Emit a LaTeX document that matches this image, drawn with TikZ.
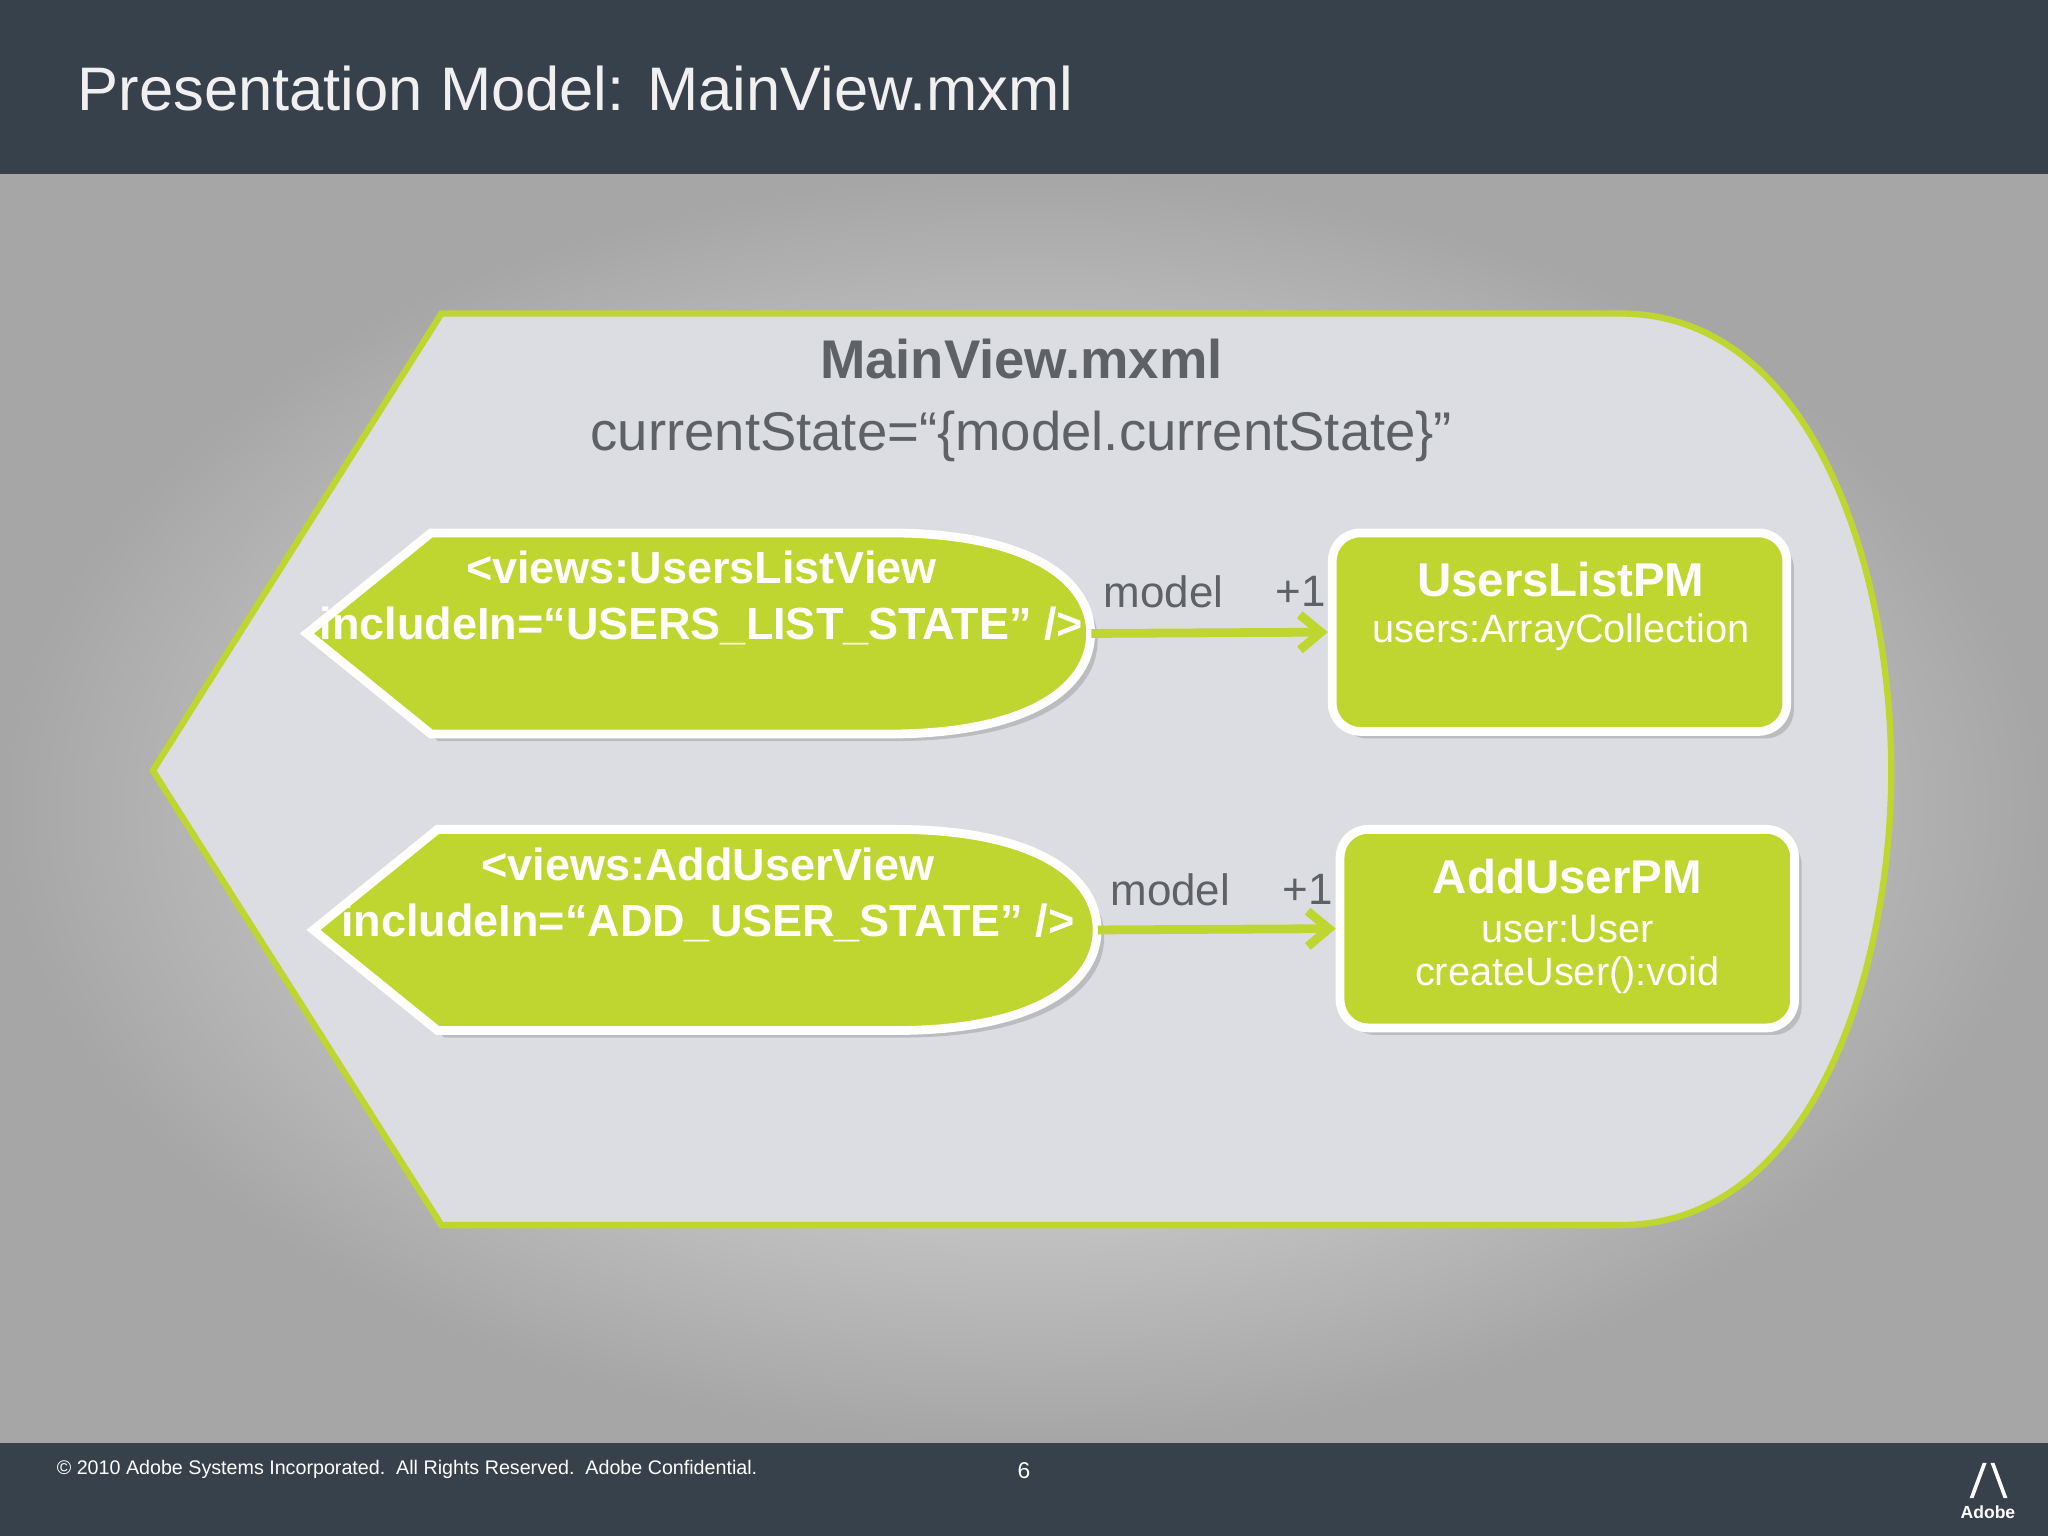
\documentclass[tikz,border=0pt]{standalone}
\usepackage{fontspec}
\setmainfont{Liberation Sans}
\usetikzlibrary{positioning, arrows.meta, shadows}
\definecolor{barcol}{HTML}{37414C}
\definecolor{limecol}{HTML}{BED62F}
\definecolor{panelcol}{HTML}{DCDDE2}
\definecolor{txtcol}{HTML}{5E6166}
\newcommand{\pxu}{0.013061cm}
\tikzset{
  pm box/.style={draw=white, line width=2.5pt, fill=limecol, rounded corners=8pt,
    minimum width=348*\pxu, minimum height=152*\pxu,
    drop shadow={shadow xshift=2pt, shadow yshift=-2pt, opacity=0.35}},
  view shape/.style={draw=white, line width=2.5pt, fill=limecol,
    drop shadow={shadow xshift=2pt, shadow yshift=-2pt, opacity=0.35}},
  model link/.style={draw=limecol, line width=2.5pt, -{Straight Barb[length=6pt,width=10pt]}},
  view text/.style={text=white, font=\bfseries\fontsize{12.8}{16}\selectfont, align=center},
  attr text/.style={text=white, font=\fontsize{11.3}{14}\selectfont},
  label text/.style={text=txtcol, font=\fontsize{12.5}{15}\selectfont}
}
\begin{document}
\begin{tikzpicture}[x=0.013061cm, y=-0.013061cm]
  \useasboundingbox (0,0) rectangle (1568,1176);
  % background
  \shade[inner color=white!93!gray, outer color=gray!70, shading=radial] (0,133) rectangle (1568,1105);
  \fill[barcol] (0,0) rectangle (1568,133);
  \fill[barcol] (0,1105) rectangle (1568,1176);
  \node[anchor=west, text=white!88!gray, font=\fontsize{17.5}{20}\selectfont] (title) at (50,68) {Presentation Model: MainView.mxml};
  \node[anchor=west, text=white, font=\fontsize{5.6}{7}\selectfont] (copy) at (34,1125) {© 2010 Adobe Systems Incorporated.\ \ All Rights Reserved.\ \ Adobe Confidential.};
  \node[text=white, font=\fontsize{6.5}{8}\selectfont] (page) at (784,1126) {6};
  \node[text=white, font=\bfseries\fontsize{5}{6}\selectfont] (adobe) at (1522,1158) {Adobe};
  \fill[white] (1508,1147) -- (1518,1120) -- (1521,1120) -- (1511,1147) -- cycle
               (1537,1147) -- (1527,1120) -- (1524,1120) -- (1534,1147) -- cycle;

  % main view panel
  \draw[fill=panelcol, draw=limecol, line width=1.8pt]
    (338,240) -- (1240,240) .. controls (1390,240) and (1448,440) .. (1448,590)
    .. controls (1448,740) and (1390,938) .. (1240,938) -- (338,938) -- (117,590) -- cycle;
  \node[text=txtcol, font=\bfseries\fontsize{15.5}{18}\selectfont] (main) at (782,275) {MainView.mxml};
  \node[text=txtcol, font=\fontsize{15.5}{18}\selectfont, below=2pt of main] (state) {currentState=“\{model.currentState\}”};

  % views
  \node[minimum width=600*\pxu, minimum height=154*\pxu] (ulv) at (535,485) {};
  \draw[view shape] (235,485) -- (330,408) -- (680,408) .. controls (790,408) and (835,445) .. (835,485)
    .. controls (835,525) and (790,562) .. (680,562) -- (330,562) -- cycle;
  \node[view text] (ulvtext) at (537,458) {<views:UsersListView\\includeIn=“USERS\_LIST\_STATE” />};

  \node[minimum width=600*\pxu, minimum height=154*\pxu] (auv) at (540,712) {};
  \draw[view shape] (240,712) -- (335,635) -- (685,635) .. controls (795,635) and (840,672) .. (840,712)
    .. controls (840,752) and (795,789) .. (685,789) -- (335,789) -- cycle;
  \node[view text] (auvtext) at (542,685) {<views:AddUserView\\includeIn=“ADD\_USER\_STATE” />};

  % presentation models
  \node[pm box] (ulpm) at (1194,484) {};
  \node[text=white, font=\bfseries\fontsize{13.5}{16}\selectfont] (ulpmname) at (1195,444) {UsersListPM};
  \node[attr text] (ulpmattr) at (1195,484) {users:ArrayCollection};

  \node[pm box] (aupm) at (1200,711) {};
  \node[text=white, font=\bfseries\fontsize{13.5}{16}\selectfont] (aupmname) at (1200,671) {AddUserPM};
  \node[attr text] (aupmattr) at (1200,711) {user:User};
  \node[attr text] (aupmop) at (1200,747) {createUser():void};

  % links
  \draw[model link] (ulv.east) -- (ulpm.west);
  \draw[model link] (auv.east) -- (aupm.west);
  \node[label text] (m1) at (891,453) {model};
  \node[label text] (p1) at (996,453) {+1};
  \node[label text] (m2) at (896,681) {model};
  \node[label text] (p2) at (1001,681) {+1};
\end{tikzpicture}
\end{document}
